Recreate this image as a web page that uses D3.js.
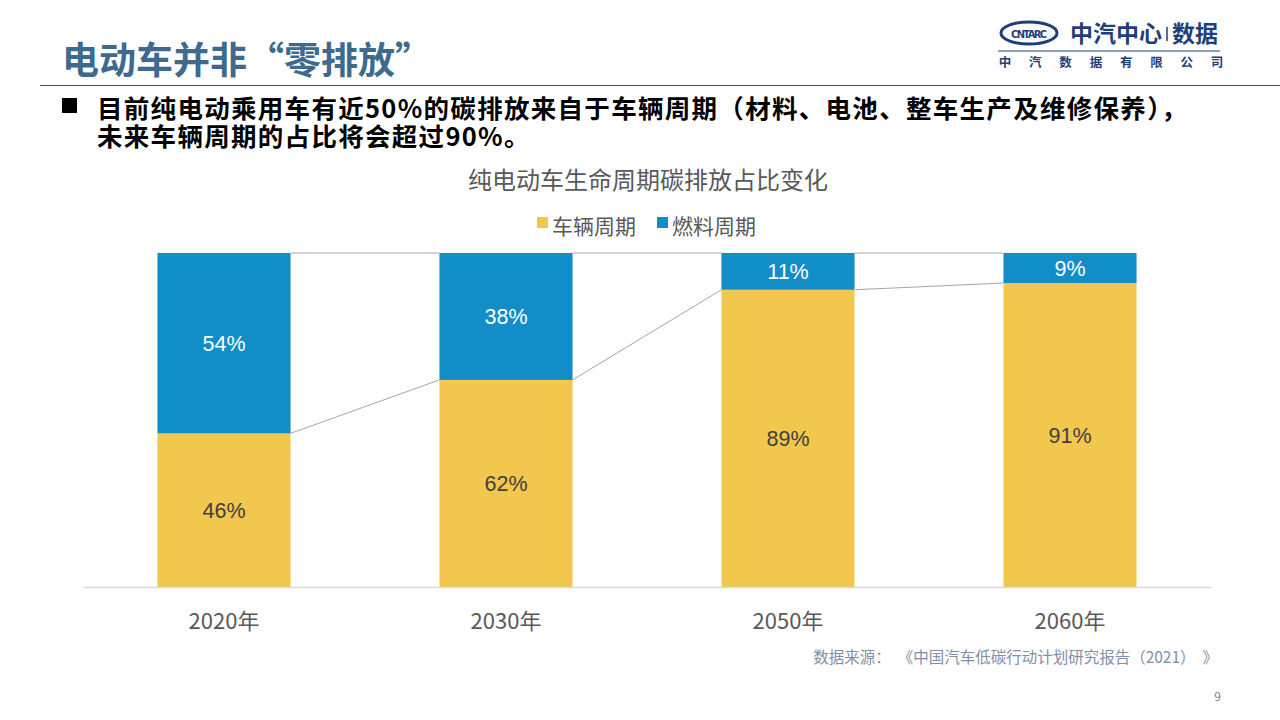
<!DOCTYPE html>
<html><head><meta charset="utf-8">
<script src="https://cdn.jsdelivr.net/npm/d3@7"></script>
<style>body{margin:0;background:#fff;}svg{display:block;font-family:"Noto Sans CJK SC",sans-serif;}</style>
</head><body><svg id="c" width="1280" height="720"></svg>
<script>
const categories = ["2020年","2030年","2050年","2060年"];
const vehicleCycle = [46, 62, 89, 91];
const fuelCycle = [54, 38, 11, 9];
const seriesNames = ["车辆周期","燃料周期"];
const colors = ["#F2C74E","#118DC8"];

const svg = d3.select("#c");
const F = '"Noto Sans CJK SC",sans-serif';

// header
svg.append("text").attr("x",62).attr("y",74).attr("font-size",37).attr("font-weight","bold")
  .attr("fill","#3D6A8E").attr("font-family",F).text("电动车并非“零排放”");
svg.append("line").attr("x1",40).attr("x2",1280).attr("y1",85.5).attr("y2",85.5).attr("stroke","#2F4E8C").attr("stroke-width",1.2);
svg.append("rect").attr("x",62).attr("y",98).attr("width",15).attr("height",15).attr("fill","#000");
const bt = svg.append("text").attr("font-size",25.5).attr("letter-spacing",1.3).attr("font-weight","bold").attr("fill","#000").attr("font-family",F);
bt.append("tspan").attr("x",97).attr("y",118).text("目前纯电动乘用车有近50%的碳排放来自于车辆周期（材料、电池、整车生产及维修保养），");
bt.append("tspan").attr("x",97).attr("y",145.5).text("未来车辆周期的占比将会超过90%。");

// logo
svg.append("ellipse").attr("cx",1029).attr("cy",33).attr("rx",28).attr("ry",11).attr("fill","none").attr("stroke","#1F3F7A").attr("stroke-width",3);
svg.append("text").attr("x",1029).attr("y",37.5).attr("text-anchor","middle").attr("font-size",11).attr("font-weight","bold")
  .attr("fill","#1F3F7A").attr("font-family","DejaVu Sans Condensed, sans-serif").attr("textLength",36).text("CNTARC");
svg.append("text").attr("x",1070).attr("y",42).attr("font-size",23).attr("font-weight","bold").attr("fill","#1F3F7A").attr("font-family",F).text("中汽中心");
svg.append("line").attr("x1",1167).attr("x2",1167).attr("y1",27).attr("y2",41).attr("stroke","#1F3F7A").attr("stroke-width",1.5);
svg.append("text").attr("x",1172).attr("y",42).attr("font-size",23).attr("font-weight","bold").attr("fill","#1F3F7A").attr("font-family",F).text("数据");
svg.append("line").attr("x1",998).attr("x2",1220).attr("y1",51).attr("y2",51).attr("stroke","#1F3F7A").attr("stroke-width",1);
const co = "中汽数据有限公司".split("");
co.forEach((ch,i)=>svg.append("text").attr("x",1005+i*30.3).attr("y",67).attr("text-anchor","middle").attr("font-size",12.5)
  .attr("font-weight","bold").attr("fill","#1F3F7A").attr("font-family",F).text(ch));

// chart title & legend
svg.append("text").attr("x",648).attr("y",189).attr("text-anchor","middle").attr("font-size",24).attr("fill","#595959").attr("font-family",F)
  .text("纯电动车生命周期碳排放占比变化");
const legX = [537, 657];
seriesNames.forEach((n,i)=>{
  svg.append("rect").attr("x",legX[i]).attr("y",217).attr("width",11).attr("height",11).attr("fill",colors[i]);
  svg.append("text").attr("x",legX[i]+15).attr("y",234).attr("font-size",21).attr("fill","#595959").attr("font-family",F).text(n);
});

// scales
const x = d3.scaleBand().domain(categories).range([83,1211]).paddingInner(0.528).paddingOuter(0.264);
const y = d3.scaleLinear().domain([0,100]).range([587,253]);

const rows = categories.map((c,i)=>({cat:c, v:vehicleCycle[i], f:fuelCycle[i]}));
const stack = d3.stack().keys(["v","f"])(rows);

// connector lines
const g = svg.append("g");
stack.forEach(s=>{
  for(let i=0;i<s.length-1;i++){
    g.append("line").attr("x1",x(categories[i])+x.bandwidth()).attr("y1",y(s[i][1]))
      .attr("x2",x(categories[i+1])).attr("y2",y(s[i+1][1])).attr("stroke","#A6A6A6").attr("stroke-width",1);
  }
});

stack.forEach((s,si)=>{
  g.selectAll(null).data(s).enter().append("rect")
    .attr("x",d=>x(d.data.cat)).attr("width",x.bandwidth())
    .attr("y",d=>y(d[1])).attr("height",d=>y(d[0])-y(d[1])).attr("fill",colors[si]);
  g.selectAll(null).data(s).enter().append("text")
    .attr("x",d=>x(d.data.cat)+x.bandwidth()/2).attr("y",d=>(y(d[0])+y(d[1]))/2+8)
    .attr("text-anchor","middle").attr("font-size",21.5).attr("fill",si===0?"#404040":"#fff")
    .attr("font-family","Liberation Sans, Arial, sans-serif")
    .text(d=>(d[1]-d[0])+"%");
});

// axis
const ax = svg.append("g").attr("transform","translate(0,587)").call(d3.axisBottom(x).tickSize(0).tickPadding(0));
ax.select(".domain").attr("stroke","#D9D9D9").attr("stroke-width",1.5);
ax.selectAll("text").attr("font-size",22).attr("fill","#595959").attr("dy",null).attr("y",42).attr("font-family",F);

// source
svg.append("text").attr("x",1218).attr("y",663).attr("text-anchor","end").attr("font-size",15.5).attr("fill","#7F8FA9").attr("font-family",F)
  .attr("xml:space","preserve").style("white-space","pre")
  .text("数据来源：  《中国汽车低碳行动计划研究报告（2021）  》");
svg.append("text").attr("x",1221).attr("y",701).attr("text-anchor","end").attr("font-size",12).attr("fill","#7F7F7F").attr("font-family",F).text("9");
</script></body></html>
